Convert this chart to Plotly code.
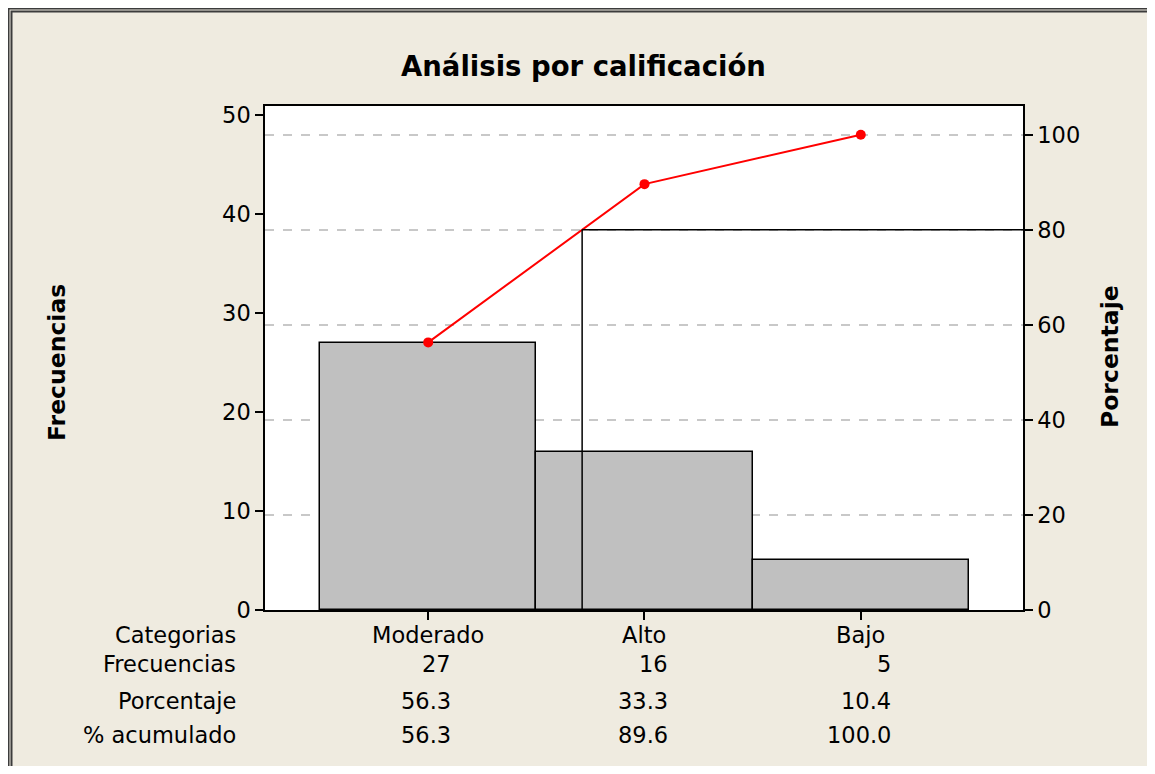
import plotly.graph_objects as go

# data
categorias = ["Moderado", "Alto", "Bajo"]
frecuencias = [27, 16, 5]
porcentaje = [56.3, 33.3, 10.4]
acumulado = [56.3, 89.6, 100.0]
total = 48

# page has an 8px body margin, so the figure is shifted by OFF
OFF = 8
W, H = 1155 - 2 * OFF, 774 - 2 * OFF
# plot area in screen pixels
X0, X1, Y0, Y1 = 265, 1023, 106, 610
L, T = X0 - OFF, Y0 - OFF
R, B = W - (X1 - OFF), H - (Y1 - OFF)
PW, PH = X1 - X0, Y1 - Y0

bg = "#EFEBE0"
font = "DejaVu Sans"
fs = 22.5


def px(x):
    # screen pixel -> paper x
    return (x - X0) / PW


def py(y):
    # screen pixel -> paper y
    return (Y1 - y) / PH


def text_w(s):
    # rough width of a number string in DejaVu Sans
    return sum(0.318 if c == "." else 0.636 for c in s) * fs


ymax = 50.9
xr = [-0.7545, 2.75]

fig = go.Figure()

fig.add_trace(go.Bar(
    x=list(range(len(categorias))), y=frecuencias, width=1,
    marker=dict(color="#C0C0C0", line=dict(color="black", width=1.5)),
    showlegend=False, hoverinfo="skip"))

fig.add_trace(go.Scatter(
    x=list(range(len(categorias))), y=acumulado, yaxis="y2",
    mode="lines+markers", line=dict(color="#FF0000", width=2),
    marker=dict(color="#FF0000", size=10), showlegend=False))

# 80% reference line
xc = (80 - acumulado[0]) / (acumulado[1] - acumulado[0])
fig.add_shape(type="line", xref="x", yref="y2", x0=xc, x1=xc, y0=0, y1=80,
              line=dict(color="black", width=1.5))
fig.add_shape(type="line", xref="x", yref="y2", x0=xc, x1=xr[1], y0=80, y1=80,
              line=dict(color="black", width=1.5))

# outer frame (double line), right/bottom edges fall off the page
for off in (8.5, 11.5):
    fig.add_shape(type="rect", xref="paper", yref="paper",
                  x0=px(off), x1=px(1155 + 40), y0=py(off), y1=py(774 + 40),
                  line=dict(color="#3C3C3C", width=2))

ann = []
ann.append(dict(text="<b>Análisis por calificación</b>", x=px(583), y=py(66),
                font=dict(size=27.5)))
ann.append(dict(text="<b>Frecuencias</b>", x=px(57), y=py(363), textangle=-90,
                font=dict(size=23.5)))
ann.append(dict(text="<b>Porcentaje</b>", x=px(1110), y=py(357), textangle=-90,
                font=dict(size=23.5)))

rows = ["Categorias", "Frecuencias", "Porcentaje", "% acumulado"]
row_y = [635, 664, 701, 735]
for r, yy in zip(rows, row_y):
    ann.append(dict(text=r, x=px(238), y=py(yy), xanchor="right"))

for i, cat in enumerate(categorias):
    ann.append(dict(text=cat, x=i, xref="x", y=py(row_y[0])))
    vals = [str(frecuencias[i]), f"{porcentaje[i]:.1f}", f"{acumulado[i]:.1f}"]
    half = max(text_w(v) for v in vals) / 2
    xp = X0 + (i - xr[0]) / (xr[1] - xr[0]) * PW + half
    for v, yy in zip(vals, row_y[1:]):
        ann.append(dict(text=v, x=px(xp), y=py(yy), xanchor="right"))

for a in ann:
    a.setdefault("xref", "paper")
    a["yref"] = "paper"
    a["showarrow"] = False
    a.setdefault("xanchor", "center")
    a["yanchor"] = "middle"
    f = a.get("font", {})
    a["font"] = dict(family=font, color="black", size=f.get("size", fs))

fig.update_layout(
    width=W, height=H,
    margin=dict(l=L, r=R, t=T, b=B, pad=0),
    paper_bgcolor=bg, plot_bgcolor="white",
    font=dict(family=font, size=fs, color="black"),
    bargap=0,
    annotations=ann,
    xaxis=dict(range=xr, tickvals=[0, 1, 2], showticklabels=False,
               ticks="outside", ticklen=8, tickwidth=1.5, tickcolor="black",
               showline=True, linecolor="black", linewidth=1.5, mirror=True,
               showgrid=False, zeroline=False, fixedrange=True),
    yaxis=dict(range=[0, ymax], tickvals=[0, 10, 20, 30, 40, 50],
               ticks="outside", ticklen=8, tickwidth=1.5, tickcolor="black",
               showline=True, linecolor="black", linewidth=1.5,
               showgrid=False, zeroline=False),
    yaxis2=dict(range=[0, ymax * 100 / total], tickvals=[0, 20, 40, 60, 80, 100],
                overlaying="y", side="right",
                ticks="outside", ticklen=8, tickwidth=1.5, tickcolor="black",
                showline=True, linecolor="black", linewidth=1.5,
                showgrid=True, gridcolor="#C8C8C8", gridwidth=1.5, griddash="dash",
                zeroline=False),
)

fig.write_html("out.html")
